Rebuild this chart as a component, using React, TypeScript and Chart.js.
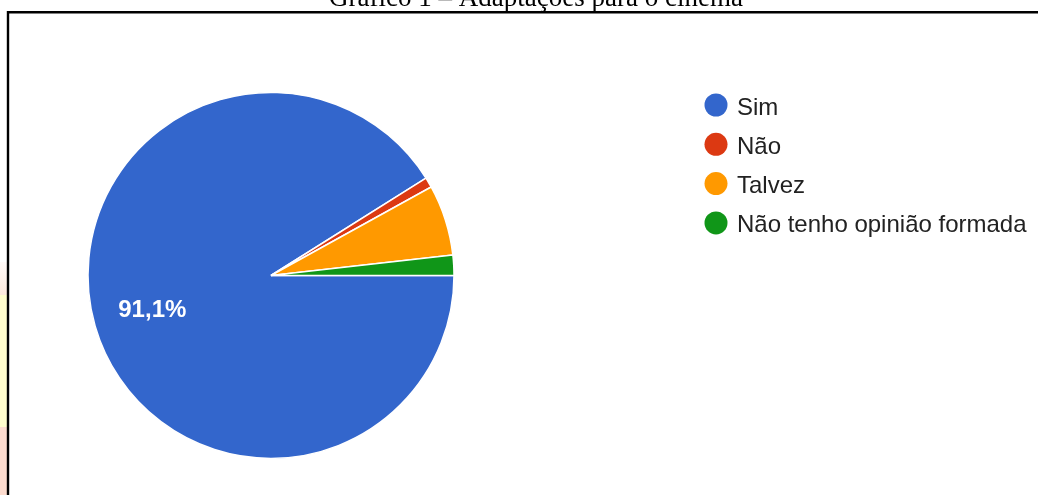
import React, { useEffect, useRef } from "react";
import { Chart, registerables } from "chart.js";

Chart.register(...registerables);

const chartTitle = "Gráfico 1 – Adaptações para o cinema";
const categories = ["Sim", "Não", "Talvez", "Não tenho opinião formada"];
const responses = [102, 1, 7, 2];
const sliceColors = ["#3366cc", "#dc3912", "#ff9900", "#109618"];
const shownPercentLabels = ["91,1%", "", "", ""];

const W = 1038;
const H = 495;

const decorPlugin = {
  id: "decor",
  beforeDraw(chart: any) {
    const ctx = chart.ctx;
    ctx.save();
    // frame lines
    ctx.strokeStyle = "#000";
    ctx.lineWidth = 2.4;
    ctx.beginPath();
    ctx.moveTo(8, H);
    ctx.lineTo(8, 12.2);
    ctx.lineTo(W, 12.2);
    ctx.stroke();
    // title (cut at top)
    ctx.fillStyle = "#000";
    ctx.font = '27px "Liberation Serif", "Times New Roman", serif';
    ctx.textAlign = "center";
    ctx.textBaseline = "alphabetic";
    ctx.fillText(chartTitle, 536, 6);
    ctx.restore();
  },
  afterDraw(chart: any) {
    const ctx = chart.ctx;
    const meta = chart.getDatasetMeta(0);
    ctx.save();
    // slice percentage labels
    ctx.font = 'bold 24px "Liberation Sans", Arial, sans-serif';
    ctx.fillStyle = "#ffffff";
    ctx.textAlign = "center";
    ctx.textBaseline = "middle";
    meta.data.forEach((arc: any, i: number) => {
      const txt = shownPercentLabels[i];
      if (!txt) return;
      const { x, y, startAngle, endAngle, outerRadius } = arc.getProps(
        ["x", "y", "startAngle", "endAngle", "outerRadius"],
        true
      );
      const mid = (startAngle + endAngle) / 2;
      const r = outerRadius * 0.675;
      ctx.fillText(txt, x + Math.cos(mid) * r, y + Math.sin(mid) * r + 1);
    });
    // legend
    const labels = chart.data.labels as string[];
    const colors = chart.data.datasets[0].backgroundColor as string[];
    ctx.font = '24px "Liberation Sans", Arial, sans-serif';
    ctx.textAlign = "left";
    ctx.textBaseline = "alphabetic";
    labels.forEach((lab, i) => {
      const cy = 105 + i * 39.3;
      ctx.fillStyle = colors[i];
      ctx.beginPath();
      ctx.arc(716, cy, 11.5, 0, Math.PI * 2);
      ctx.fill();
      ctx.fillStyle = "#222222";
      ctx.fillText(lab, 737, cy + 9.5);
    });
    ctx.restore();
  },
};

export default function App() {
  const ref = useRef<HTMLCanvasElement | null>(null);
  useEffect(() => {
    if (!ref.current) return;
    const chart = new Chart(ref.current, {
      type: "pie",
      data: {
        labels: categories,
        datasets: [
          {
            data: responses,
            backgroundColor: sliceColors,
            borderColor: "#ffffff",
            borderWidth: 1.5,
            hoverOffset: 0,
            radius: 183,
          } as any,
        ],
      },
      options: {
        animation: false,
        responsive: false,
        rotation: 90,
        layout: { padding: { left: 88, right: W - 454, top: 92, bottom: H - 459 } },
        plugins: {
          legend: { display: false },
          tooltip: { enabled: false },
          title: { display: false },
        },
        events: [],
      },
      plugins: [decorPlugin],
    });
    return () => chart.destroy();
  }, []);

  return (
    <div style={{ position: "absolute", left: 0, top: 0, width: W, height: H, overflow: "hidden", background: "#fff" }}>
      <div style={{ position: "absolute", left: 0, top: 262, width: 7, height: 33, background: "linear-gradient(#fffaf8, #fde9dc)" }} />
      <div style={{ position: "absolute", left: 0, top: 295, width: 7, height: 132, background: "#fffdcc" }} />
      <div style={{ position: "absolute", left: 0, top: 427, width: 7, height: 68, background: "#fddccf" }} />
      <canvas ref={ref} width={W} height={H} style={{ position: "absolute", left: 0, top: 0, width: W, height: H }} />
    </div>
  );
}
